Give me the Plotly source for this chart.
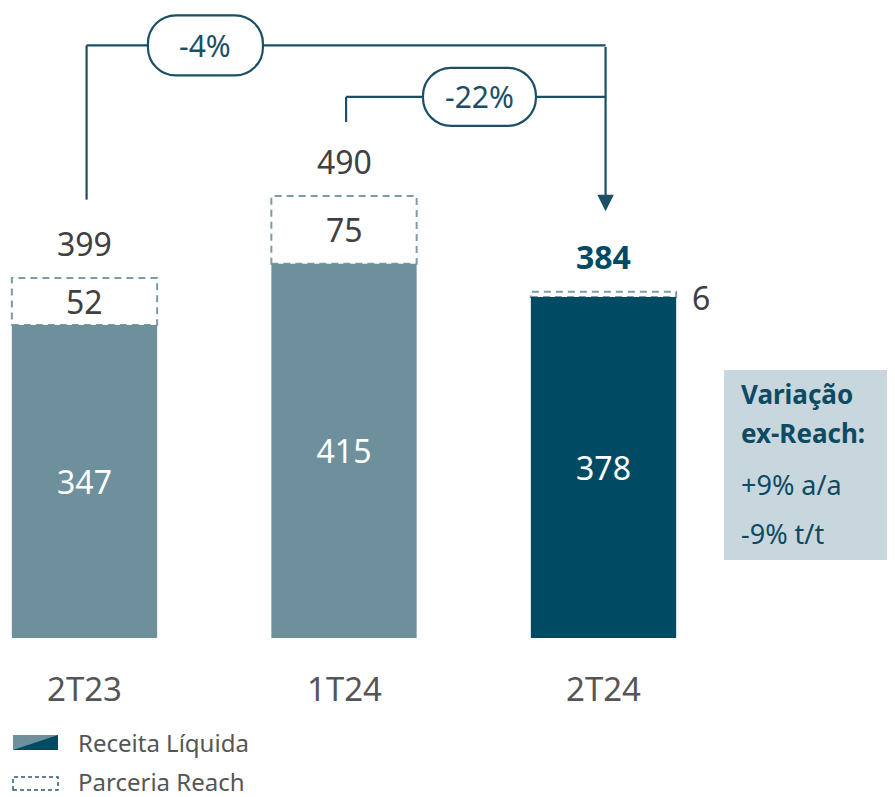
import plotly.graph_objects as go

# dados (R$ milhões)
categorias = ["2T23", "1T24", "2T24"]
receita_liquida = [347, 415, 378]
parceria_reach = [52, 75, 6]
totais = [399, 490, 384]
variacoes = ["-4%", "-22%"]
texto_box = ["<b>Variação</b>", "<b>ex-Reach:</b>", "+9% a/a", "-9% t/t"]
legenda = ["Receita Líquida", "Parceria Reach"]

FONTE = "Noto Sans"
CLARO = "#6E909C"
ESCURO = "#004B63"
LINHA = "#1B4F66"
TRACO = "#7C9BA8"
CINZA = "#404040"

cores = [CLARO, CLARO, ESCURO]
xs = list(range(len(categorias)))
LARG = 0.56

# a pagina tem margem de 8px no body
OFF = 8
W, H = 895 - OFF, 797 - OFF


def px(x):
    return (x - OFF) / W


def py(y):
    return 1 - (y - OFF) / H


def pilula(w, h, r):
    # retangulo arredondado em pixels, centrado na ancora
    k = 0.5523 * r
    a, b = w / 2, h / 2
    return (f"M {-a + r},{-b} L {a - r},{-b} "
            f"C {a - r + k},{-b} {a},{-b + r - k} {a},{-b + r} "
            f"L {a},{b - r} "
            f"C {a},{b - r + k} {a - r + k},{b} {a - r},{b} "
            f"L {-a + r},{b} "
            f"C {-a + r - k},{b} {-a},{b - r + k} {-a},{b - r} "
            f"L {-a},{-b + r} "
            f"C {-a},{-b + r - k} {-a + r - k},{-b} {-a + r},{-b} Z")


fig = go.Figure()

fig.add_trace(go.Bar(
    x=xs, y=receita_liquida, width=LARG,
    marker=dict(color=cores, line=dict(width=0)),
    text=receita_liquida, textposition="inside", insidetextanchor="middle",
    textfont=dict(family=FONTE, size=32, color="white"),
    hoverinfo="skip", showlegend=False,
))

shapes = []
annotations = []

# caixas tracejadas (Parceria Reach)
for i, (base, r) in enumerate(zip(receita_liquida, parceria_reach)):
    shapes.append(dict(type="rect", xref="x", yref="y", layer="below",
                       x0=i - LARG / 2, x1=i + LARG / 2, y0=base, y1=base + r,
                       line=dict(color=TRACO, width=2, dash="7px,5px"),
                       fillcolor="white"))
    if r > 20:
        annotations.append(dict(x=i, y=base + r / 2, text=str(r), showarrow=False,
                                font=dict(family=FONTE, size=32, color=CINZA)))
    else:
        annotations.append(dict(x=i + LARG / 2, y=base + r / 2, text=str(r), showarrow=False,
                                xanchor="left", xshift=14, yshift=-3,
                                font=dict(family=FONTE, size=32, color=CINZA)))

# totais
for i, t in enumerate(totais):
    ultimo = i == len(totais) - 1
    annotations.append(dict(
        x=i, y=t, yshift=35, showarrow=False,
        text=f"<b>{t}</b>" if ultimo else str(t),
        font=dict(family=FONTE, size=32, color=ESCURO if ultimo else CINZA)))

# categorias
for i, c in enumerate(categorias):
    annotations.append(dict(x=i, y=0, yshift=-50, text=c, showarrow=False,
                            font=dict(family=FONTE, size=33, color="#555555")))

# colchetes de variacao
nivel1, nivel2 = 657, 600
dx = 0.008
shapes.append(dict(type="line", xref="x", yref="y", x0=0 + dx, x1=0 + dx,
                   y0=totais[0] + 87, y1=nivel1, line=dict(color=LINHA, width=2.2)))
shapes.append(dict(type="line", xref="x", yref="y", x0=0 + dx, x1=2 + dx,
                   y0=nivel1, y1=nivel1, line=dict(color=LINHA, width=2.2)))
shapes.append(dict(type="line", xref="x", yref="y", x0=1 + dx, x1=1 + dx,
                   y0=totais[1] + 82, y1=nivel2, line=dict(color=LINHA, width=2.2)))
shapes.append(dict(type="line", xref="x", yref="y", x0=1 + dx, x1=2 + dx,
                   y0=nivel2, y1=nivel2, line=dict(color=LINHA, width=2.2)))
annotations.append(dict(x=2 + dx, y=totais[2] + 89, ax=2 + dx, ay=nivel1,
                        xref="x", yref="y", axref="x", ayref="y", text="",
                        showarrow=True, arrowhead=2, arrowsize=1.5, arrowwidth=2.2,
                        arrowcolor=LINHA))

for txt, cx, nivel, w, h in [(variacoes[0], 0.466, nivel1, 115, 60),
                              (variacoes[1], 1.522, nivel2, 113, 58)]:
    shapes.append(dict(type="path", xref="x", yref="y", xsizemode="pixel", ysizemode="pixel",
                       xanchor=cx, yanchor=nivel, path=pilula(w, h, 28),
                       line=dict(color=LINHA, width=2.2), fillcolor="white"))
    annotations.append(dict(x=cx, y=nivel, text=txt, showarrow=False,
                            font=dict(family=FONTE, size=30, color=LINHA)))

# caixa de variacao ex-Reach
shapes.append(dict(type="rect", xref="paper", yref="paper", layer="below",
                   x0=px(724), x1=1, y0=py(560), y1=py(370),
                   fillcolor="#C8D6DD", line=dict(width=0)))
for txt, yy, tam in zip(texto_box, [394, 433, 484, 533], [26, 26, 27, 27]):
    annotations.append(dict(xref="paper", yref="paper", x=px(739), y=py(yy), text=txt,
                            xanchor="left", yanchor="middle", showarrow=False,
                            font=dict(family=FONTE, size=tam, color="#0E4A62")))

# legenda
shapes.append(dict(type="rect", xref="paper", yref="paper",
                   x0=px(13), x1=px(58), y0=py(750), y1=py(735),
                   fillcolor=CLARO, line=dict(width=0)))
shapes.append(dict(type="path", xref="paper", yref="paper",
                   path=f"M {px(13)},{py(750)} L {px(58)},{py(750)} L {px(58)},{py(735)} Z",
                   fillcolor=ESCURO, line=dict(width=0)))
shapes.append(dict(type="rect", xref="paper", yref="paper",
                   x0=px(13), x1=px(58), y0=py(790), y1=py(777),
                   fillcolor="white", line=dict(color="#2C5A70", width=1.5, dash="4px,3px")))
for txt, yy in zip(legenda, [742, 781]):
    annotations.append(dict(xref="paper", yref="paper", x=px(77), y=py(yy), text=txt,
                            xanchor="left", yanchor="middle", showarrow=False, borderpad=0,
                            font=dict(family=FONTE, size=24, color="#555555")))

x0_px, passo = 84.5 - OFF, 259.5
base_px, escala = 638 - OFF, 0.902
fig.update_layout(
    width=W, height=H,
    margin=dict(l=0, r=0, t=0, b=0),
    paper_bgcolor="white", plot_bgcolor="white",
    xaxis=dict(range=[-x0_px / passo, (W - x0_px) / passo], visible=False, fixedrange=True),
    yaxis=dict(range=[-(H - base_px) / escala, base_px / escala], visible=False, fixedrange=True),
    shapes=shapes, annotations=annotations,
    showlegend=False,
)

fig.write_html("out.html")
